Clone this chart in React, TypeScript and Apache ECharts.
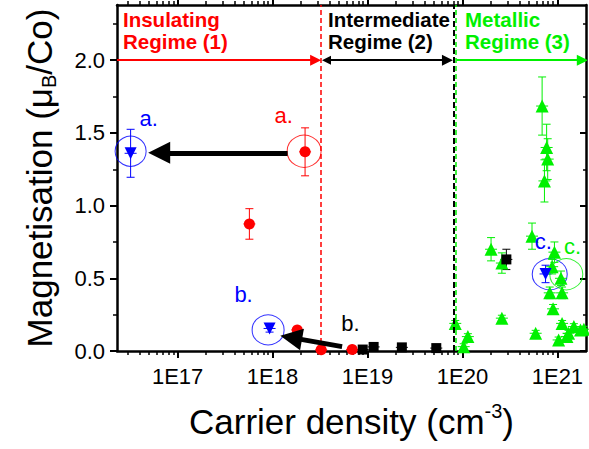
import React, { useEffect, useRef } from 'react';
import * as echarts from 'echarts';

const FONT = '"Liberation Sans", Arial, Helvetica, sans-serif';

// Axis ranges
const xMin = 2.3e16;
const xMax = 2.0e21;
const yMin = 0;
const yMax = 2.38;

// Tick values
const xMajorTicks = [1e17, 1e18, 1e19, 1e20, 1e21];
const yMajorTicks = [0, 0.5, 1.0, 1.5, 2.0];
const yMinorTicks = [0.25, 0.75, 1.25, 1.75, 2.25];

// Insulating regime (red circles)
const insulatingX = [2.2e18, 5.7e17, 1.82e18, 3.25e18, 6.9e18];
const insulatingY = [1.37, 0.874, 0.145, 0.008, 0.01];
const insulatingErr = [0.165, 0.105, 0.012, 0.01, 0.01];

// Highlighted samples (blue down triangles)
const blueX = [3.2e16, 9.3e17, 7.5e20];
const blueY = [1.36, 0.155, 0.53];
const blueErr = [0.165, 0.025, 0.06];

// Intermediate regime (black squares)
const intermediateX = [8.9e18, 1.16e19, 2.3e19, 5.3e19, 2.9e20];
const intermediateY = [0.01, 0.028, 0.025, 0.02, 0.63];
const intermediateErr = [0.005, 0.01, 0.01, 0.01, 0.07];

// Metallic regime (green up triangles)
const metallicX = [6.9e20, 7.7e20, 7.9e20, 7.3e20, 5.4e20, 2.0e20, 2.6e20, 9.3e20, 8.8e20, 1.09e21, 8.3e20, 1.12e21, 9.0e20, 1.12e21, 1.49e21, 1.75e21, 1.31e21, 1.03e21, 5.9e20, 2.6e20, 8.4e19, 1.14e20, 1.03e20, 1.26e21, 1.9e21];
const metallicY = [1.685, 1.4, 1.32, 1.17, 0.79, 0.7, 0.605, 0.68, 0.58, 0.5, 0.4, 0.4, 0.29, 0.19, 0.168, 0.145, 0.122, 0.076, 0.122, 0.226, 0.19, 0.099, 0.03, 0.1, 0.15];
const metallicErr = [0.2, 0.16, 0.14, 0.145, 0.09, 0.08, 0.07, 0.07, 0.05, 0.05, 0.04, 0.04, 0.03, 0.02, 0.02, 0.02, 0.02, 0.02, 0.02, 0.02, 0.02, 0.02, 0.02, 0.02, 0.02];

// Regime boundaries (carrier density) and arrow level
const boundaryInsulating = 3.2e18;
const boundaryIntermediate = 8.0e19;
const boundaryMetallic = 8.6e19;
const regimeArrowLevel = 2.0;

// Highlight circles
const circleX = [2.15e18, 3.2e16, 8.98e17, 8.3e20, 1.24e21];
const circleY = [1.374, 1.374, 0.145, 0.528, 0.528];
const circleColor = ['#ff0000', '#0000ff', '#0000ff', '#0000ff', '#00ee00'];
const circleSize = [[34, 32], [31, 30], [32, 30], [35, 31], [33, 31]];

// Sample labels
const labelText = ['a.', 'a.', 'b.', 'b.', 'c.', 'c.'];
const labelX = [4.95e16, 1.31e18, 4.95e17, 6.6e18, 7.1e20, 1.44e21];
const labelY = [1.6, 1.62, 0.39, 0.19, 0.75, 0.72];
const labelColor = ['#0000ff', '#ff0000', '#0000ff', '#000000', '#0000ff', '#00ee00'];

// Shift arrows (from, to)
const shiftArrows = [
  [[1.44e18, 1.363], [6.4e16, 1.363]],
  [[5.4e18, 0.03], [1.57e18, 0.092]],
];

const RED = '#ff0000';
const BLUE = '#0000ff';
const GREEN = '#00f000';
const BLACK = '#000000';

function errorBars(xs: number[], ys: number[], errs: number[], color: string) {
  return {
    type: 'custom',
    xAxisIndex: 0,
    yAxisIndex: 0,
    silent: true,
    z: 3,
    data: xs.map((x, i) => [x, ys[i], errs[i]]),
    encode: { x: 0, y: 1 },
    renderItem: (params: any, api: any) => {
      const x = api.value(0);
      const y = api.value(1);
      const e = api.value(2);
      const hi = api.coord([x, y + e]);
      const lo = api.coord([x, Math.max(y - e, 0)]);
      const c = api.coord([x, y]);
      const cap = 4;
      const style = { stroke: color, lineWidth: 1 };
      return {
        type: 'group',
        children: [
          { type: 'line', shape: { x1: hi[0], y1: hi[1], x2: lo[0], y2: lo[1] }, style },
          { type: 'line', shape: { x1: hi[0] - cap, y1: hi[1], x2: hi[0] + cap, y2: hi[1] }, style },
          { type: 'line', shape: { x1: lo[0] - cap, y1: lo[1], x2: lo[0] + cap, y2: lo[1] }, style },
          { type: 'line', shape: { x1: c[0] - 6, y1: c[1], x2: c[0] + 6, y2: c[1] }, style },
        ],
      };
    },
  };
}

function markers(xs: number[], ys: number[], color: string, symbol: string, size: number, rotate = 0) {
  return {
    type: 'scatter',
    xAxisIndex: 0,
    yAxisIndex: 0,
    silent: true,
    z: 4,
    symbol,
    symbolSize: size,
    symbolRotate: rotate,
    itemStyle: { color, opacity: 1 },
    data: xs.map((x, i) => [x, ys[i]]),
  };
}

function minorLogTicks(): number[] {
  const out: number[] = [];
  for (let d = 16; d <= 21; d++) {
    for (let m = 2; m <= 9; m++) {
      const v = m * Math.pow(10, d);
      if (v > xMin && v < xMax) out.push(v);
    }
  }
  return out;
}

export default function App() {
  const ref = useRef<HTMLDivElement>(null);
  useEffect(() => {
    const chart = echarts.init(ref.current!, null, { renderer: 'svg' });
    const xMinor = minorLogTicks();
    const axisLineStyle = { color: BLACK, width: 2.5 };
    const baseX = {
      type: 'log',
      logBase: 10,
      min: xMin,
      max: xMax,
      splitLine: { show: false },
      minorTick: { show: false },
      minorSplitLine: { show: false },
    };
    const baseY = {
      type: 'value',
      min: yMin,
      max: yMax,
      splitLine: { show: false },
      minorTick: { show: false },
    };
    const option: any = {
      animation: false,
      backgroundColor: '#ffffff',
      grid: { left: 117, top: 5, width: 469, height: 346, containLabel: false },
      xAxis: [
        {
          ...baseX,
          position: 'bottom',
          axisLine: { show: true, onZero: false, lineStyle: axisLineStyle },
          axisTick: { show: true, inside: false, length: 7, customValues: xMajorTicks, lineStyle: { color: BLACK, width: 2 } },
          axisLabel: {
            show: true,
            customValues: xMajorTicks,
            formatter: (v: number) => '1E' + Math.round(Math.log10(v)),
            fontSize: 22,
            fontFamily: FONT,
            color: BLACK,
            margin: 14,
          },
          name: 'Carrier density (cm{s|-3})',
          nameLocation: 'middle',
          nameGap: 50,
          nameTextStyle: {
            fontSize: 35,
            fontFamily: FONT,
            color: BLACK,
            lineHeight: 40,
            rich: { s: { fontSize: 20, fontFamily: FONT, color: BLACK, verticalAlign: 'top', lineHeight: 20 } },
          },
        },
        {
          ...baseX,
          position: 'bottom',
          axisLine: { show: false, onZero: false },
          axisTick: { show: true, inside: false, length: 4, customValues: xMinor, lineStyle: { color: BLACK, width: 1.5 } },
          axisLabel: { show: false },
        },
        {
          ...baseX,
          position: 'top',
          axisLine: { show: true, onZero: false, lineStyle: axisLineStyle },
          axisTick: { show: true, inside: false, length: 5, customValues: xMajorTicks, lineStyle: { color: BLACK, width: 2 } },
          axisLabel: { show: false },
        },
        {
          ...baseX,
          position: 'top',
          axisLine: { show: false, onZero: false },
          axisTick: { show: true, inside: false, length: 4, customValues: xMinor, lineStyle: { color: BLACK, width: 1.5 } },
          axisLabel: { show: false },
        },
      ],
      yAxis: [
        {
          ...baseY,
          position: 'left',
          axisLine: { show: true, onZero: false, lineStyle: axisLineStyle },
          axisTick: { show: true, inside: false, length: 7, customValues: yMajorTicks, lineStyle: { color: BLACK, width: 2 } },
          axisLabel: {
            show: true,
            customValues: yMajorTicks,
            formatter: (v: number) => v.toFixed(1),
            fontSize: 22,
            fontFamily: FONT,
            color: BLACK,
            margin: 12,
          },
          name: 'Magnetisation (μ{b|B}/Co)',
          nameLocation: 'middle',
          nameGap: 58,
          nameTextStyle: {
            fontSize: 35,
            fontFamily: FONT,
            color: BLACK,
            lineHeight: 40,
            rich: { b: { fontSize: 20, fontFamily: FONT, color: BLACK, verticalAlign: 'bottom', lineHeight: 20 } },
          },
        },
        {
          ...baseY,
          position: 'left',
          axisLine: { show: false, onZero: false },
          axisTick: { show: true, inside: false, length: 4, customValues: yMinorTicks, lineStyle: { color: BLACK, width: 1.5 } },
          axisLabel: { show: false },
        },
        {
          ...baseY,
          position: 'right',
          axisLine: { show: true, onZero: false, lineStyle: axisLineStyle },
          axisTick: { show: true, inside: true, length: 6, customValues: yMajorTicks, lineStyle: { color: BLACK, width: 2 } },
          axisLabel: { show: false },
        },
        {
          ...baseY,
          position: 'right',
          axisLine: { show: false, onZero: false },
          axisTick: { show: true, inside: true, length: 3, customValues: yMinorTicks, lineStyle: { color: BLACK, width: 1.5 } },
          axisLabel: { show: false },
        },
      ],
      graphic: [
        {
          type: 'text', left: 123, top: 8, z: 10, silent: true,
          style: { text: 'Insulating\nRegime (1)', fill: RED, fontSize: 20.5, fontWeight: 'bold', fontFamily: FONT, lineHeight: 22 },
        },
        {
          type: 'text', left: 328, top: 8, z: 10, silent: true,
          style: { text: 'Intermediate\nRegime (2)', fill: BLACK, fontSize: 20.5, fontWeight: 'bold', fontFamily: FONT, lineHeight: 22 },
        },
        {
          type: 'text', left: 465, top: 8, z: 10, silent: true,
          style: { text: 'Metallic\nRegime (3)', fill: GREEN, fontSize: 20.5, fontWeight: 'bold', fontFamily: FONT, lineHeight: 22 },
        },
      ],
      series: [
        // highlight circles
        {
          type: 'scatter',
          xAxisIndex: 0,
          yAxisIndex: 0,
          silent: true,
          z: 2,
          symbol: 'circle',
          data: circleX.map((x, i) => ({
            value: [x, circleY[i]],
            symbolSize: circleSize[i],
            itemStyle: { color: 'rgba(0,0,0,0)', borderColor: circleColor[i], borderWidth: 1 },
          })),
          markLine: {
            silent: true,
            symbol: ['none', 'none'],
            label: { show: false },
            data: [
              { xAxis: boundaryIntermediate, lineStyle: { color: BLACK, type: [6, 3], width: 2 } },
              { xAxis: boundaryMetallic, lineStyle: { color: GREEN, type: [5, 3], width: 1.5 } },
              { xAxis: boundaryInsulating, lineStyle: { color: RED, type: [5, 3], width: 1.5 } },
            ],
          },
        },
        errorBars(insulatingX, insulatingY, insulatingErr, RED),
        errorBars(blueX, blueY, blueErr, BLUE),
        errorBars(intermediateX, intermediateY, intermediateErr, BLACK),
        errorBars(metallicX, metallicY, metallicErr, GREEN),
        markers(metallicX, metallicY, GREEN, 'triangle', 13),
        markers(intermediateX, intermediateY, BLACK, 'rect', 10),
        markers(insulatingX, insulatingY, RED, 'circle', 11),
        markers(blueX, blueY, BLUE, 'triangle', 12, 180),
        // shift arrows
        {
          type: 'lines',
          coordinateSystem: 'cartesian2d',
          xAxisIndex: 0,
          yAxisIndex: 0,
          silent: true,
          z: 5,
          polyline: false,
          symbol: ['none', 'triangle'],
          symbolSize: [17, 22],
          lineStyle: { color: BLACK, width: 5, opacity: 1, curveness: 0 },
          data: shiftArrows.map((c) => ({ coords: c })),
        },
        // regime arrows
        {
          type: 'lines',
          coordinateSystem: 'cartesian2d',
          xAxisIndex: 0,
          yAxisIndex: 0,
          silent: true,
          z: 5,
          symbol: ['none', 'triangle'],
          symbolSize: [9, 11],
          lineStyle: { width: 2, opacity: 1, curveness: 0 },
          data: [
            { coords: [[xMin, regimeArrowLevel], [2.84e18, regimeArrowLevel]], lineStyle: { color: RED } },
            { coords: [[boundaryMetallic, regimeArrowLevel], [1.83e21, regimeArrowLevel]], lineStyle: { color: GREEN } },
          ],
        },
        {
          type: 'lines',
          coordinateSystem: 'cartesian2d',
          xAxisIndex: 0,
          yAxisIndex: 0,
          silent: true,
          z: 5,
          symbol: ['triangle', 'triangle'],
          symbolSize: [9, 11],
          lineStyle: { width: 2, opacity: 1, curveness: 0, color: BLACK },
          data: [{ coords: [[3.7e18, regimeArrowLevel], [6.95e19, regimeArrowLevel]] }],
        },
        // sample labels
        {
          type: 'scatter',
          xAxisIndex: 0,
          yAxisIndex: 0,
          silent: true,
          z: 6,
          symbol: 'circle',
          symbolSize: 1,
          itemStyle: { color: 'rgba(0,0,0,0)' },
          label: {
            show: true,
            position: 'inside',
            formatter: '{b}',
            fontSize: 22,
            fontFamily: FONT,
            opacity: 1,
            textBorderWidth: 0,
          },
          labelLayout: { hideOverlap: false },
          data: labelText.map((t, i) => ({
            name: t,
            value: [labelX[i], labelY[i]],
            label: { color: labelColor[i] },
          })),
        },
      ],
    };
    chart.setOption(option);
    return () => chart.dispose();
  }, []);
  return (
    <div
      ref={ref}
      style={{ position: 'fixed', left: 0, top: 0, width: 589, height: 449, background: '#ffffff' }}
    />
  );
}
